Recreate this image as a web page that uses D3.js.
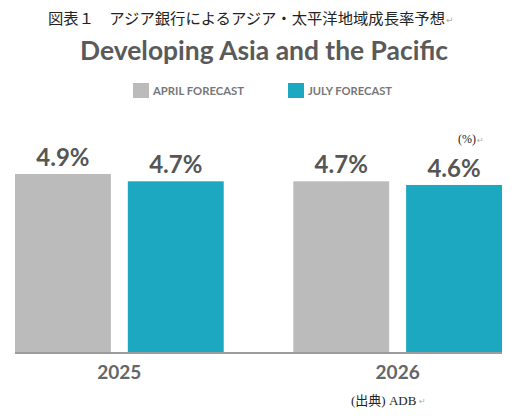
<!DOCTYPE html>
<html>
<head>
<meta charset="utf-8">
<script src="https://cdn.jsdelivr.net/npm/d3@7"></script>
<style>
  html, body { margin: 0; padding: 0; background: #fff; }
  svg { display: block; }
</style>
</head>
<body>
<script>
// chart data
const years = ['2025', '2026']
const series = ['APRIL FORECAST', 'JULY FORECAST']
const april = [4.9, 4.7]
const july = [4.7, 4.6]
const colors = ['#bbbbbb', '#1ba8c0']

const W = 515, H = 420
const baseY = 353

const svg = d3.select('body').append('svg')
    .attr('width', W)
    .attr('height', H)

//**** HEADER */
svg.append('text')
    .attr('x', 48).attr('y', 24)
    .attr('font-family', '"Noto Sans CJK JP", serif')
    .attr('font-size', 15)
    .attr('fill', '#222')
    .attr('textLength', 397)
    .attr('lengthAdjust', 'spacingAndGlyphs')
    .text('図表１　アジア銀行によるアジア・太平洋地域成長率予想')
svg.append('text')
    .attr('x', 446).attr('y', 23)
    .attr('font-family', '"DejaVu Sans"')
    .attr('font-size', 9)
    .attr('fill', '#aaa')
    .text('↵')

svg.append('text')
    .attr('x', 264).attr('y', 60)
    .attr('text-anchor', 'middle')
    .attr('font-family', 'Lato, sans-serif')
    .attr('font-weight', 'bold')
    .attr('font-size', 27)
    .attr('fill', '#5a5a5a')
    .attr('textLength', 368)
    .attr('lengthAdjust', 'spacingAndGlyphs')
    .text('Developing Asia and the Pacific')

//**** LEGEND */
const legendX = [133, 288]
const legendW = [91, 84]
const legend_g = svg.append('g').attr('class', 'legend_g')
const item = legend_g.selectAll('g').data(series).join('g')
    .attr('transform', (d, i) => 'translate(' + legendX[i] + ',83)')
item.append('rect')
    .attr('width', 16).attr('height', 15)
    .attr('fill', (d, i) => colors[i])
item.append('text')
    .attr('x', 20).attr('y', 12)
    .attr('font-family', 'Lato, sans-serif')
    .attr('font-weight', 'bold')
    .attr('font-size', 11)
    .attr('fill', '#777')
    .attr('textLength', (d, i) => legendW[i])
    .attr('lengthAdjust', 'spacingAndGlyphs')
    .text(d => d)

//**** SCALES */
const x0 = d3.scaleBand().domain(years).range([15, 502]).paddingInner(0.25)
const x1 = d3.scaleBand().domain(series).range([0, x0.bandwidth()]).paddingInner(0.15)
const y = d3.scaleLinear().domain([0, 4.9]).range([baseY, 174])

const rows = years.map((yr, i) => ({
    year: yr,
    vals: series.map((s, j) => ({ s, j, v: j === 0 ? april[i] : july[i] }))
}))

//**** BARS */
const group_g = svg.append('g').attr('class', 'bars_g')
    .selectAll('g').data(rows).join('g')
    .attr('transform', d => 'translate(' + x0(d.year) + ',0)')

group_g.selectAll('rect').data(d => d.vals).join('rect')
    .attr('x', d => x1(d.s))
    .attr('y', d => y(d.v))
    .attr('width', x1.bandwidth())
    .attr('height', d => baseY - y(d.v))
    .attr('fill', d => colors[d.j])

group_g.selectAll('text.val').data(d => d.vals).join('text')
    .attr('class', 'val')
    .attr('x', d => x1(d.s) + x1.bandwidth() / 2)
    .attr('y', d => y(d.v) - 8)
    .attr('text-anchor', 'middle')
    .attr('font-family', 'Lato, sans-serif')
    .attr('font-weight', 'bold')
    .attr('font-size', 24)
    .attr('fill', '#565656')
    .text(d => d.v.toFixed(1) + '%')

//**** AXIS */
svg.append('line')
    .attr('x1', x0.range()[0]).attr('x2', x0.range()[1])
    .attr('y1', baseY).attr('y2', baseY)
    .attr('stroke', '#9c9c9c')
    .attr('stroke-width', 2)

svg.append('g').selectAll('text').data(years).join('text')
    .attr('x', d => x0(d) + x0.bandwidth() / 2)
    .attr('y', 379)
    .attr('text-anchor', 'middle')
    .attr('font-family', 'Lato, sans-serif')
    .attr('font-weight', 'bold')
    .attr('font-size', 19)
    .attr('fill', '#666')
    .text(d => d)

//**** NOTES */
svg.append('text')
    .attr('x', 458).attr('y', 143)
    .attr('font-family', '"Liberation Serif", serif')
    .attr('font-size', 12)
    .attr('fill', '#222')
    .text('(%)')
svg.append('text')
    .attr('x', 477).attr('y', 143)
    .attr('font-family', '"DejaVu Sans"')
    .attr('font-size', 8)
    .attr('fill', '#aaa')
    .text('↵')

svg.append('text')
    .attr('x', 351).attr('y', 405)
    .attr('font-family', '"Liberation Serif", "Noto Sans CJK JP", serif')
    .attr('font-size', 13)
    .attr('fill', '#222')
    .text('(出典) ADB')
svg.append('text')
    .attr('x', 419).attr('y', 404)
    .attr('font-family', '"DejaVu Sans"')
    .attr('font-size', 8)
    .attr('fill', '#aaa')
    .text('↵')
</script>
</body>
</html>
